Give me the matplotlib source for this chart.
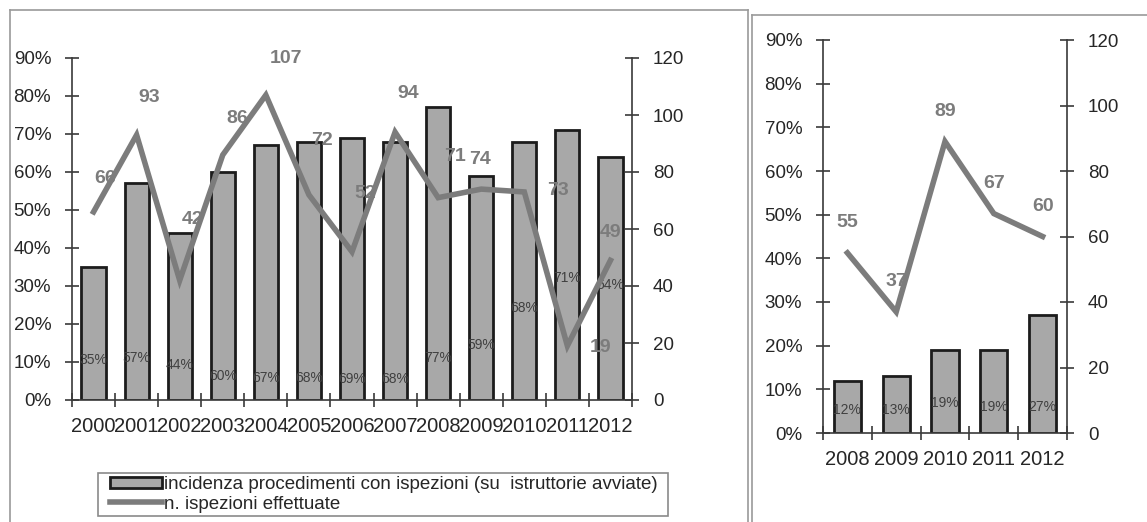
import matplotlib
matplotlib.use("Agg")
import matplotlib.pyplot as plt
from matplotlib.patches import Patch, Rectangle
from matplotlib.lines import Line2D
from matplotlib.ticker import FixedLocator, FuncFormatter

plt.rcParams['font.family'] = ['Liberation Sans', 'DejaVu Sans']

# ---- data: full period ----
years_all = ['2000', '2001', '2002', '2003', '2004', '2005', '2006',
             '2007', '2008', '2009', '2010', '2011', '2012']
incidenza_all = [35, 57, 44, 60, 67, 68, 69, 68, 77, 59, 68, 71, 64]
ispezioni_all = [66, 93, 42, 86, 107, 72, 52, 94, 71, 74, 73, 19, 49]

# ---- data: recent period ----
years_recent = ['2008', '2009', '2010', '2011', '2012']
incidenza_recent = [12, 13, 19, 19, 27]
ispezioni_recent = [55, 37, 89, 67, 60]

legend_labels = ['incidenza procedimenti con ispezioni (su  istruttorie avviate)',
                 'n. ispezioni effettuate']

# label placement (percent-axis height of bar labels, pixel offsets of line labels)
bar_label_y_all = [10.5, 11, 9.2, 6.3, 5.8, 5.8, 5.6, 5.6, 11, 14.5, 24.2, 32, 30.3]
line_label_off_all = [(12, 33), (13, 37), (13, 61), (14, 36), (20, 37), (13, 54),
                      (13, 58), (13, 39), (17, 41), (-1, 30), (34, 1), (33, -2), (0, 28)]
bar_label_y_recent = [5.3, 5.3, 6.9, 6.0, 6.0]
line_label_off_recent = [(0, 30)] * 5

W, H = 1147, 522
fig = plt.figure(figsize=(W / 100, H / 100), dpi=100)
fig.patch.set_facecolor('white')

BAR_FC = '#a8a8a8'
BAR_EC = '#1c1c1c'
LINE_C = '#7c7c7c'
AX_C = '#3a3a3a'
TXT_C = '#262626'
FRAME_C = '#9a9a9a'


def px_axes(x0, x1, y_top, y_bot):
    return fig.add_axes([x0 / W, 1 - y_bot / H, (x1 - x0) / W, (y_bot - y_top) / H])


def draw_panel(ax, years, inc, isp, bar_y, line_off, xfs, xpad):
    n = len(years)
    x = list(range(n))
    ax.bar(x, inc, width=0.56, color=BAR_FC, edgecolor=BAR_EC, linewidth=2, zorder=2)
    ax.set_xlim(-0.5, n - 0.5)
    ax.set_ylim(0, 90)
    ax.yaxis.set_major_locator(FixedLocator(range(0, 91, 10)))
    ax.yaxis.set_major_formatter(FuncFormatter(lambda v, p: f'{int(v)}%'))
    ax.set_xticks(x)
    ax.set_xticklabels(years, fontsize=xfs, color=TXT_C)
    ax.set_xticks([i - 0.5 for i in range(n + 1)], minor=True)
    ax.tick_params(axis='x', which='major', length=0, pad=xpad)
    ax.tick_params(axis='x', which='minor', length=10, direction='inout', color=AX_C, width=1.2)
    ax.tick_params(axis='y', length=10, direction='inout', color=AX_C, width=1.2,
                   labelsize=13.5, labelcolor=TXT_C, pad=10)
    for s in ('top', 'right'):
        ax.spines[s].set_visible(False)
    for s in ('left', 'bottom'):
        ax.spines[s].set_color(AX_C)
        ax.spines[s].set_linewidth(1.2)
    ax.patch.set_alpha(0)
    for i, v in enumerate(inc):
        ax.text(i, bar_y[i], f'{v}%', ha='center', va='center', fontsize=10,
                color='#404040', zorder=5)

    ax2 = ax.twinx()
    ax2.set_ylim(0, 120)
    ax2.yaxis.set_major_locator(FixedLocator(range(0, 121, 20)))
    ax2.plot(x, isp, color=LINE_C, linewidth=4, solid_joinstyle='miter', zorder=3)
    ax2.tick_params(axis='y', length=10, direction='inout', color=AX_C, width=1.2,
                    labelsize=13.5, labelcolor=TXT_C, pad=10)
    for s in ('top', 'left', 'bottom'):
        ax2.spines[s].set_visible(False)
    ax2.spines['right'].set_color(AX_C)
    ax2.spines['right'].set_linewidth(1.2)
    for i, v in enumerate(isp):
        ax2.annotate(str(v), (i, v), xytext=line_off[i], textcoords='offset pixels',
                     ha='center', va='center', fontsize=14, fontweight='bold',
                     color=LINE_C, zorder=6)
    return ax2


# panel frames
fig.add_artist(Line2D([10 / W, 748 / W], [1 - 10 / H, 1 - 10 / H], color=FRAME_C, lw=1.2))
fig.add_artist(Line2D([10 / W, 10 / W], [0, 1 - 10 / H], color=FRAME_C, lw=1.2))
fig.add_artist(Line2D([748 / W, 748 / W], [0, 1 - 10 / H], color=FRAME_C, lw=1.2))
fig.add_artist(Line2D([752 / W, 752 / W], [0, 1 - 15 / H], color=FRAME_C, lw=1.2))
fig.add_artist(Line2D([752 / W, 1], [1 - 15 / H, 1 - 15 / H], color=FRAME_C, lw=1.2))

ax_a = px_axes(72, 632, 58, 400)
draw_panel(ax_a, years_all, incidenza_all, ispezioni_all,
           bar_label_y_all, line_label_off_all, 14.5, 12)

ax_b = px_axes(823, 1067, 40, 433)
draw_panel(ax_b, years_recent, incidenza_recent, ispezioni_recent,
           bar_label_y_recent, line_label_off_recent, 14.5, 12.5)

# legend box and entries
fig.add_artist(Rectangle((98 / W, 1 - 516 / H), 570 / W, 43 / H, fill=False,
                         edgecolor='#8a8a8a', linewidth=1.2))
handles = [Patch(facecolor=BAR_FC, edgecolor=BAR_EC, linewidth=2),
           Line2D([], [], color=LINE_C, linewidth=4)]
leg = fig.legend(handles, legend_labels, loc='center left',
                 bbox_to_anchor=(110 / W, 1 - 494.5 / H),
                 fontsize=13.5, frameon=False,
                 handlelength=2.75, handleheight=0.55, handletextpad=0.15,
                 labelspacing=0.12, borderpad=0, borderaxespad=0)
for t in leg.get_texts():
    t.set_color(TXT_C)

fig.savefig('out.png', dpi=100, facecolor='white')
